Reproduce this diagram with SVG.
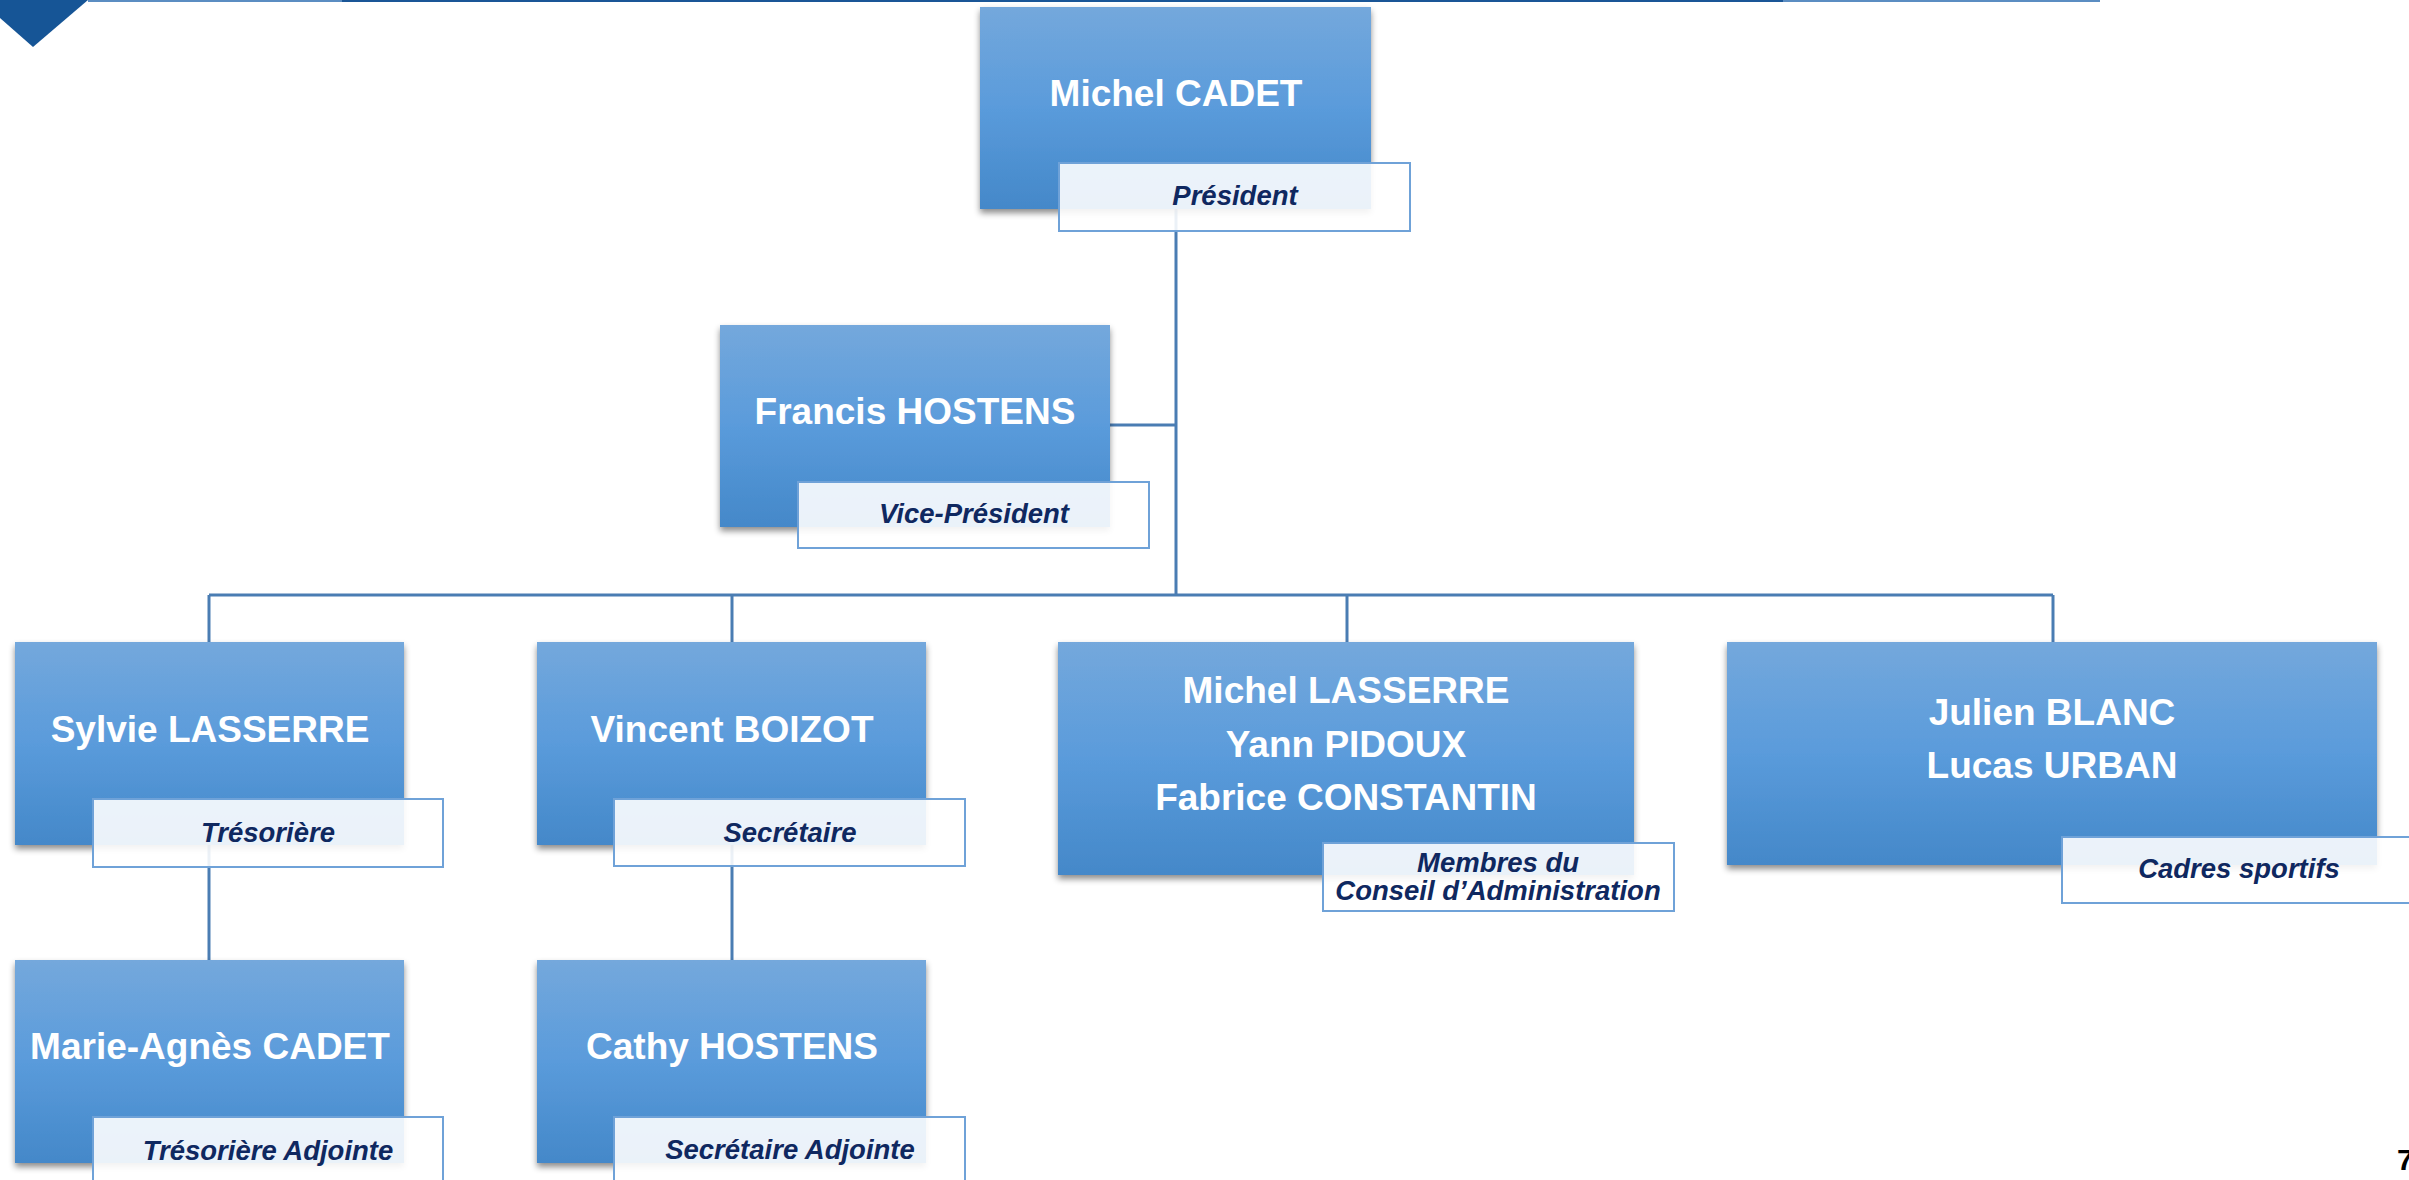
<svg xmlns="http://www.w3.org/2000/svg" width="2409" height="1180" viewBox="0 0 2409 1180">
<defs>
<linearGradient id="boxGrad" x1="0" y1="0" x2="0" y2="1">
<stop offset="0" stop-color="#74a8dc"/>
<stop offset="0.5" stop-color="#5a9bdb"/>
<stop offset="1" stop-color="#4488c9"/>
</linearGradient>
<filter id="shadow" x="-10%" y="-10%" width="120%" height="130%">
<feDropShadow dx="0" dy="4" stdDeviation="3" flood-color="#000" flood-opacity="0.45"/>
</filter>
</defs>
<style>
.box{fill:url(#boxGrad);filter:url(#shadow);}
.sub{fill:#ffffff;fill-opacity:0.89;stroke:#6fa2d8;stroke-width:2;}
.name{font-family:"Liberation Sans",Arial,sans-serif;font-weight:bold;font-size:37px;fill:#ffffff;text-anchor:middle;}
.role{font-family:"Liberation Sans",Arial,sans-serif;font-weight:bold;font-style:italic;font-size:27.5px;fill:#0f2860;text-anchor:middle;}
.conn{stroke:#4a7db3;stroke-width:3;fill:none;}
</style>
<rect width="2409" height="1180" fill="#ffffff"/>
<g id="decor">
<polygon points="0,0 88,0 33,47 0,18" fill="#165596"/>
<rect x="88" y="0" width="254" height="2" fill="#5b8dc2"/>
<rect x="342" y="0" width="1441" height="2" fill="#1a5697"/>
<rect x="1783" y="0" width="317" height="2" fill="#5b8dc2"/>
<text x="2397" y="1170" font-family="'Liberation Sans',Arial,sans-serif" font-weight="bold" font-size="30" fill="#000">7</text>
</g>
<g id="connectors">
<path class="conn" d="M1176,209 V595"/>
<path class="conn" d="M1110,425 H1176"/>
<path class="conn" d="M209,595 H2053"/>
<path class="conn" d="M209,595 V642"/>
<path class="conn" d="M732,595 V642"/>
<path class="conn" d="M1347,595 V642"/>
<path class="conn" d="M2053,595 V642"/>
<path class="conn" d="M209,845 V960"/>
<path class="conn" d="M732,845 V960"/>
</g>
<g id="node-president">
<rect class="box" x="980" y="7" width="391" height="202"/>
<text class="name" x="1176" y="106">Michel CADET</text>
<rect class="sub" x="1059" y="163" width="351" height="68"/>
<text class="role" x="1235" y="205">Président</text>
</g>
<g id="node-vice-president">
<rect class="box" x="720" y="325" width="390" height="202"/>
<text class="name" x="915" y="424">Francis HOSTENS</text>
<rect class="sub" x="798" y="482" width="351" height="66"/>
<text class="role" x="974" y="523">Vice-Président</text>
</g>
<g id="node-tresoriere">
<rect class="box" x="15" y="642" width="389" height="203"/>
<text class="name" x="210" y="742">Sylvie LASSERRE</text>
<rect class="sub" x="93" y="799" width="350" height="68"/>
<text class="role" x="268" y="842">Trésorière</text>
</g>
<g id="node-secretaire">
<rect class="box" x="537" y="642" width="389" height="203"/>
<text class="name" x="732" y="742">Vincent BOIZOT</text>
<rect class="sub" x="614" y="799" width="351" height="67"/>
<text class="role" x="790" y="842">Secrétaire</text>
</g>
<g id="node-conseil">
<rect class="box" x="1058" y="642" width="576" height="233"/>
<text class="name" x="1346" y="703">Michel LASSERRE</text>
<text class="name" x="1346" y="757">Yann PIDOUX</text>
<text class="name" x="1346" y="810">Fabrice CONSTANTIN</text>
<rect class="sub" x="1323" y="843" width="351" height="68"/>
<text class="role" x="1498" y="872">Membres du</text>
<text class="role" x="1498" y="900">Conseil d’Administration</text>
</g>
<g id="node-cadres">
<rect class="box" x="1727" y="642" width="650" height="223"/>
<text class="name" x="2052" y="725">Julien BLANC</text>
<text class="name" x="2052" y="778">Lucas URBAN</text>
<rect class="sub" x="2062" y="837" width="354" height="66"/>
<text class="role" x="2239" y="878">Cadres sportifs</text>
</g>
<g id="node-tresoriere-adjointe">
<rect class="box" x="15" y="960" width="389" height="203"/>
<text class="name" x="210" y="1059">Marie-Agnès CADET</text>
<rect class="sub" x="93" y="1117" width="350" height="70"/>
<text class="role" x="268" y="1160">Trésorière Adjointe</text>
</g>
<g id="node-secretaire-adjointe">
<rect class="box" x="537" y="960" width="389" height="203"/>
<text class="name" x="732" y="1059">Cathy HOSTENS</text>
<rect class="sub" x="614" y="1117" width="351" height="70"/>
<text class="role" x="790" y="1159">Secrétaire Adjointe</text>
</g>
</svg>
